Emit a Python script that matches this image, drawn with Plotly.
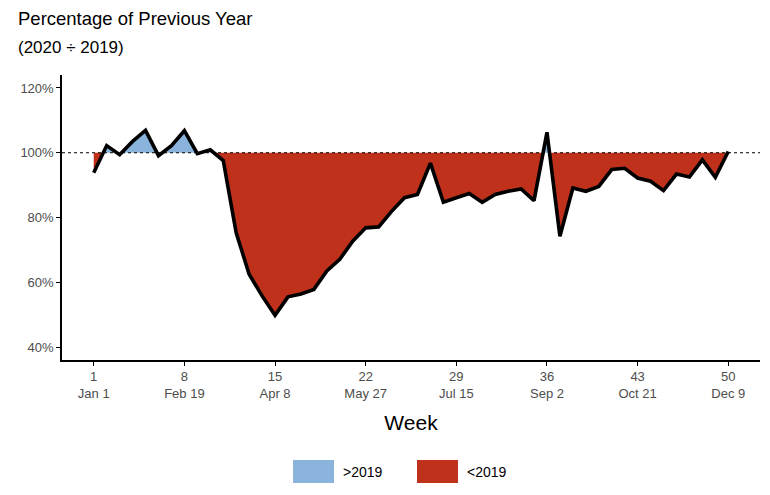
import plotly.graph_objects as go

weeks = list(range(1, 51))
pct = [93.8, 102.2, 99.4, 103.5, 106.9, 99.1, 102.2, 106.8, 99.7, 100.9,
       97.6, 75.3, 62.5, 55.8, 49.8, 55.5, 56.4, 57.8, 63.5, 67.1,
       72.7, 76.8, 77.1, 81.9, 86.1, 87.1, 96.8, 84.7, 86.1, 87.4,
       84.7, 87.1, 88.1, 88.8, 85.2, 106.3, 74.2, 89.1, 88.1, 89.6,
       94.8, 95.2, 92.2, 91.2, 88.3, 93.4, 92.5, 97.8, 92.4, 100.4]
tick_weeks = [1, 8, 15, 22, 29, 36, 43, 50]
tick_dates = ["Jan 1", "Feb 19", "Apr 8", "May 27", "Jul 15", "Sep 2", "Oct 21", "Dec 9"]
baseline = 100
series_names = [">2019", "<2019"]
colors = ["#8AB4DC", "#C0311B"]

# densify with crossing points at baseline
xs, ys = [weeks[0]], [pct[0]]
for i in range(1, len(weeks)):
    x0, y0, x1, y1 = weeks[i-1], pct[i-1], weeks[i], pct[i]
    if (y0 - baseline) * (y1 - baseline) < 0:
        t = (baseline - y0) / (y1 - y0)
        xs.append(x0 + t * (x1 - x0))
        ys.append(baseline)
    xs.append(x1)
    ys.append(y1)
hi = [max(v, baseline) for v in ys]
lo = [min(v, baseline) for v in ys]
base = [baseline] * len(xs)

fig = go.Figure()
fig.add_trace(go.Scatter(x=xs, y=base, mode="lines", line=dict(width=0), showlegend=False, hoverinfo="skip"))
fig.add_trace(go.Scatter(x=xs, y=hi, mode="lines", line=dict(width=0), fill="tonexty",
                         fillcolor=colors[0], name=series_names[0], showlegend=False))
fig.add_trace(go.Scatter(x=xs, y=base, mode="lines", line=dict(width=0), showlegend=False, hoverinfo="skip"))
fig.add_trace(go.Scatter(x=xs, y=lo, mode="lines", line=dict(width=0), fill="tonexty",
                         fillcolor=colors[1], name=series_names[1], showlegend=False))
fig.add_trace(go.Scatter(x=weeks, y=pct, mode="lines", line=dict(color="black", width=3.6),
                         showlegend=False, name="2020 / 2019"))

fig.add_shape(type="line", xref="paper", x0=0, x1=1, yref="y", y0=baseline, y1=baseline,
              line=dict(color="black", width=1.2, dash="dot"), layer="above")

# legend (manual)
leg_x = [(0.331, 0.3897), (0.5086, 0.5673)]
for (a, b), c, n in zip(leg_x, colors, series_names):
    fig.add_shape(type="rect", xref="paper", yref="paper", x0=a, x1=b, y0=-0.4316, y1=-0.3509,
                  fillcolor=c, line=dict(width=0))
    fig.add_annotation(xref="paper", yref="paper", x=b + 0.01, y=-0.393, text=n, showarrow=False,
                       xanchor="left", yanchor="middle", font=dict(size=14, color="black"))

fig.add_annotation(xref="paper", yref="paper", x=-0.066, y=1.2, text="Percentage of Previous Year",
                   showarrow=False, xanchor="left", yanchor="middle", font=dict(size=18.5, color="black"))
fig.add_annotation(xref="paper", yref="paper", x=-0.066, y=1.095, text="(2020 ÷ 2019)",
                   showarrow=False, xanchor="left", yanchor="middle", font=dict(size=17, color="black"))

fig.update_layout(
    width=770, height=495,
    margin=dict(l=62, r=10, t=75, b=135),
    paper_bgcolor="white", plot_bgcolor="white",
    font=dict(family="Liberation Sans, Arial, sans-serif", color="black"),
    xaxis=dict(range=[-1.45, 52.45], tickvals=tick_weeks,
               ticktext=[f"{w}<br>{d}" for w, d in zip(tick_weeks, tick_dates)],
               showgrid=False, zeroline=False, showline=True, linecolor="black", linewidth=1.5,
               ticks="outside", ticklen=4, tickcolor="black", tickwidth=1,
               tickfont=dict(size=13, color="#4D4D4D"),
               title=dict(text="Week", font=dict(size=21, color="black"), standoff=15)),
    yaxis=dict(range=[36, 124], tickvals=[40, 60, 80, 100, 120],
               ticktext=["40%", "60%", "80%", "100%", "120%"],
               showgrid=False, zeroline=False, showline=True, linecolor="black", linewidth=1.5,
               ticks="outside", ticklen=4, tickcolor="black", tickwidth=1,
               tickfont=dict(size=13, color="#4D4D4D")),
)

fig.write_html("out.html", config={"displayModeBar": False},
               post_script="document.body.style.margin='0';")
